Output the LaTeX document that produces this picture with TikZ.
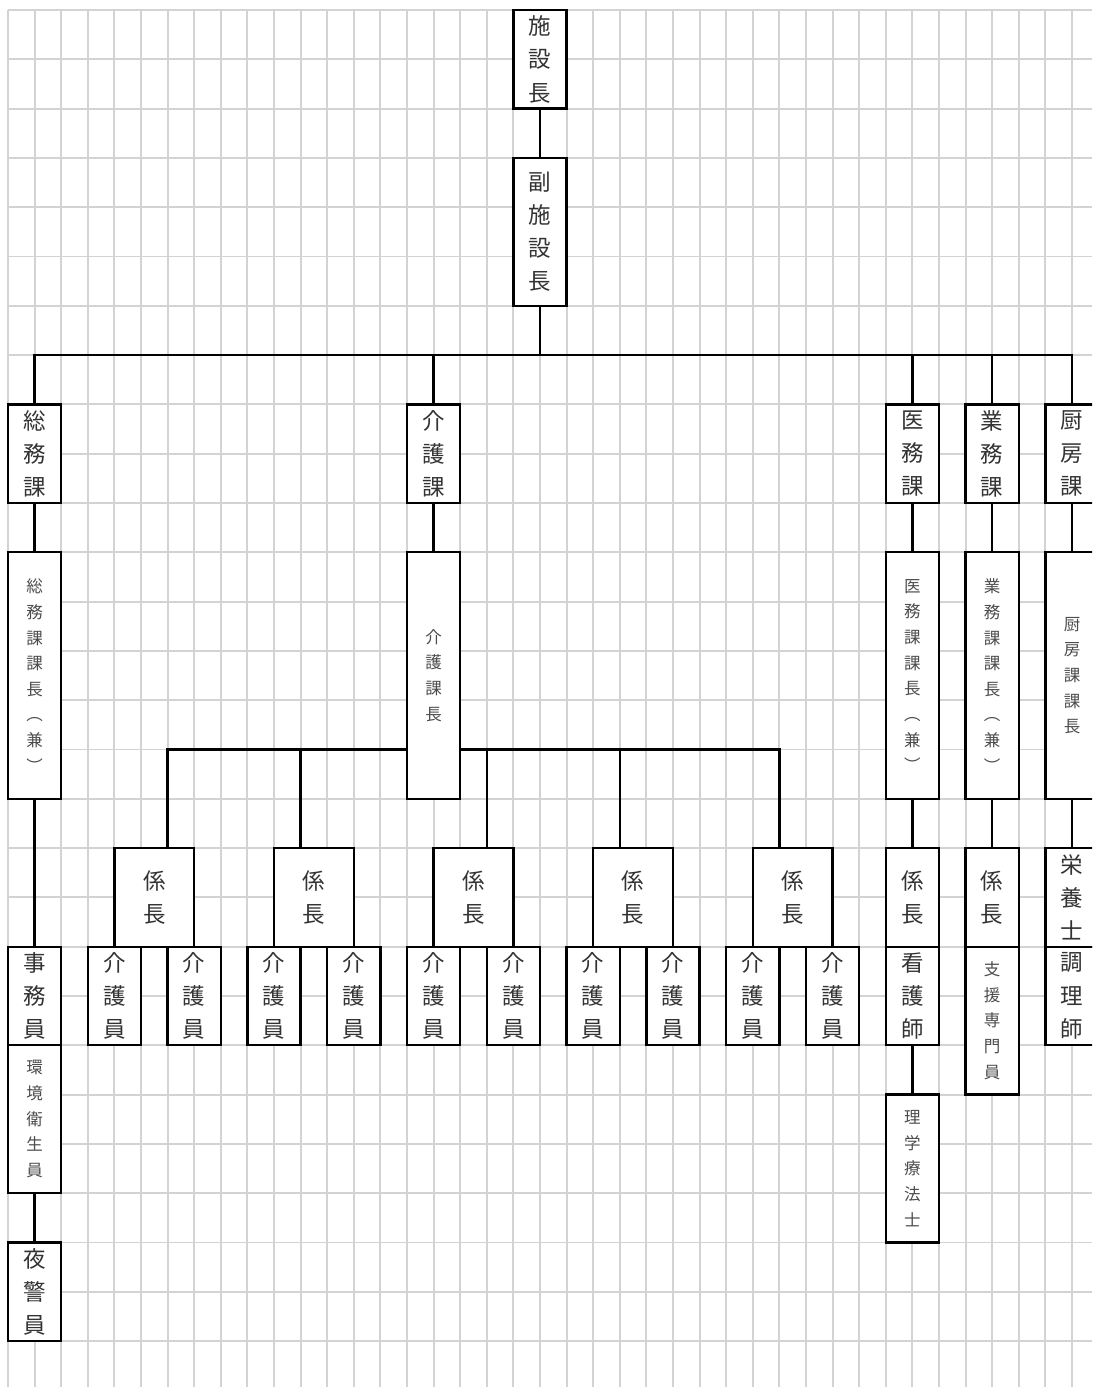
\documentclass[tikz,border=0pt]{standalone}
\usepackage{fontspec}
\usepackage{tikz}
\usetikzlibrary{positioning}
\newfontfamily\jpfont{Noto Sans CJK JP}
\definecolor{gridgray}{HTML}{D3D3D3}
\newcommand{\colw}{0.532cm}
\newcommand{\rowh}{0.986cm}

\begin{document}
\begin{tikzpicture}[
    x=\colw, y=-\rowh,
    post/.style={draw, line width=1.35pt, fill=white, inner sep=0pt, minimum width=2*\colw, align=center, font=\jpfont\fontsize{12.8}{18.9}\selectfont, text=black!80},
    smallpost/.style={post, font=\jpfont\fontsize{9.4}{14.6}\selectfont, text=black!70},
    widepost/.style={post, minimum width=3*\colw},
    tall/.style={minimum height=#1*\rowh},
    link/.style={line width=1.35pt},
    gridline/.style={draw=gridgray, line width=1.1pt}
]
\useasboundingbox (-0.3008,-0.2028) rectangle (40.752,27.931);
\clip (-0.3008,-0.2028) rectangle (40.752,27.931);
\fill[white] (-0.3008,-0.2028) rectangle (40.752,27.931);

% Grid paper
\foreach \c in {0,...,40} \draw[gridline] (\c,0) -- (\c,27.931);
\foreach \r in {0,...,27} \draw[gridline] (0,\r) -- (40.752,\r);

% Director
\node[post, tall=2] (chief) at (20,1) {施\\設\\長};
\node[post, tall=3] (vice) at (20,4.5) {副\\施\\設\\長};
\coordinate (bus) at (20,7);

% Sections
\node[post, tall=2] (soumu) at (1,9) {総\\務\\課};
\node[post, tall=2] (kaigo) at (16,9) {介\\護\\課};
\node[post, tall=2] (imu) at (34,9) {医\\務\\課};
\node[post, tall=2] (gyomu) at (37,9) {業\\務\\課};
\node[post, tall=2] (chubo) at (40,9) {厨\\房\\課};

% Section heads
\node[smallpost, tall=5] (soumuhead) at (1,13.5) {総\\務\\課\\課\\長\\︵\\兼\\︶};
\node[smallpost, tall=5] (kaigohead) at (16,13.5) {介\\護\\課\\長};
\node[smallpost, tall=5] (imuhead) at (34,13.5) {医\\務\\課\\課\\長\\︵\\兼\\︶};
\node[smallpost, tall=5] (gyomuhead) at (37,13.5) {業\\務\\課\\課\\長\\︵\\兼\\︶};
\node[smallpost, tall=5] (chubohead) at (40,13.5) {厨\\房\\課\\課\\長};

% General affairs staff
\node[post, tall=2] (jimu) at (1,20) {事\\務\\員};
\node[smallpost, tall=3] (kankyo) at (1,22.5) {環\\境\\衛\\生\\員};
\node[post, tall=2] (yakei) at (1,26) {夜\\警\\員};

% Care teams
\foreach \i/\k/\d in {1/4/6, 2/10/11, 3/16/18, 4/22/23, 5/28/29} {
  \node[widepost, tall=2] (kakari\i) at (\k+1.5,18) {係\\長};
  \node[post, tall=2] (carea\i) at (\k,20) {介\\護\\員};
  \node[post, tall=2] (careb\i) at (\k+3,20) {介\\護\\員};
  \coordinate (drop\i) at (\d,15);
}

% Medical, business, kitchen staff
\node[post, tall=2] (imukakari) at (34,18) {係\\長};
\node[post, tall=2] (nurse) at (34,20) {看\\護\\師};
\node[smallpost, tall=3] (therapist) at (34,23.5) {理\\学\\療\\法\\士};
\node[post, tall=2] (gyomukakari) at (37,18) {係\\長};
\node[smallpost, tall=3] (support) at (37,20.5) {支\\援\\専\\門\\員};
\node[post, tall=2] (diet) at (40,18) {栄\\養\\士};
\node[post, tall=2] (cook) at (40,20) {調\\理\\師};

% Connectors
\draw[link] (chief) -- (vice);
\draw[link] (vice) -- (bus);
\draw[link] (soumu) |- (bus) -| (chubo);
\foreach \n in {kaigo,imu,gyomu} \draw[link] (bus -| \n) -- (\n);
\foreach \n/\m in {soumu/soumuhead, kaigo/kaigohead, imu/imuhead, gyomu/gyomuhead, chubo/chubohead}
  \draw[link] (\n) -- (\m);
\draw[link] (soumuhead) -- (jimu);
\draw[link] (kankyo) -- (yakei);
\draw[link] (imuhead) -- (imukakari);
\draw[link] (nurse) -- (therapist);
\draw[link] (gyomuhead) -- (gyomukakari);
\draw[link] (chubohead) -- (diet);

% Care bus
\draw[link] (drop1 |- kakari1.north) |- (kaigohead.west |- drop1);
\draw[link] (kaigohead.east |- drop5) -| (drop5 |- kakari5.north);
\foreach \i in {2,3,4} \draw[link] (drop\i) -- (drop\i |- kakari\i.north);
\end{tikzpicture}
\end{document}
